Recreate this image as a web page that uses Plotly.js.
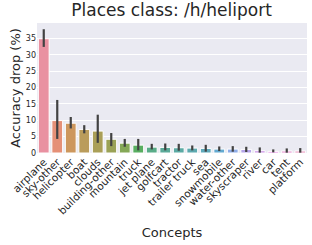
<!DOCTYPE html>
<html>
<head>
<meta charset="utf-8">
<script src="https://cdn.plot.ly/plotly-3.0.1.min.js"></script>
<style>html,body{margin:0;padding:0;background:#fff;}#chart{width:312px;height:245px;}</style>
</head>
<body>
<div id="chart"></div>
<script>
var concepts = ["airplane","sky-other","helicopter","boat","clouds","building-other","mountain","truck","jet plane","golfcart","tractor","trailer truck","sea","snowmobile","water-other","skyscraper","river","car","tent","platform"];
var drop   = [34.9, 9.9, 9.1, 7.2, 6.7, 4.2, 3.0, 2.4, 1.8, 1.7, 1.6, 1.5, 1.4, 1.2, 1.2, 1.1, 0.7, 0.5, 0.6, 0.6];
var ciLow  = [32.4, 4.3, 7.5, 6.0, 3.1, 2.1, 1.9, 0.8, 1.1, 0.8, 0.7, 0.8, 0.4, 0.6, 0.4, 0.3, 0.1, 0.2, 0.1, 0.1];
var ciHigh = [37.8, 16.2, 11.0, 8.5, 11.7, 6.1, 4.3, 4.3, 2.8, 2.9, 2.8, 2.3, 2.5, 2.0, 2.1, 1.9, 1.7, 1.1, 1.4, 1.5];
var palette = ['#f77189','#f7754f','#dc8932','#c39532','#ae9d31','#97a431','#77ab31','#31b33e','#33b07a','#35ae93','#36ada4','#37abb4','#38a9c5','#3aa5df','#6e9bf4','#a48cf4','#cc7af4','#f45cf2','#f565cc','#f66bad'];

function desat(hex, f, w){
  var r=parseInt(hex.substr(1,2),16)/255,g=parseInt(hex.substr(3,2),16)/255,b=parseInt(hex.substr(5,2),16)/255;
  var mx=Math.max(r,g,b),mn=Math.min(r,g,b),l=(mx+mn)/2,h=0,s=0,d=mx-mn;
  if(d>0){s=l>0.5?d/(2-mx-mn):d/(mx+mn);
    if(mx===r)h=((g-b)/d)%6;else if(mx===g)h=(b-r)/d+2;else h=(r-g)/d+4;h/=6;if(h<0)h+=1;}
  s*=f;
  function hue(p,q,t){if(t<0)t+=1;if(t>1)t-=1;if(t<1/6)return p+(q-p)*6*t;if(t<1/2)return q;if(t<2/3)return p+(q-p)*(2/3-t)*6;return p;}
  var q=l<0.5?l*(1+s):l+s-l*s,p=2*l-q;
  var rr=hue(p,q,h+1/3),gg=hue(p,q,h),bb=hue(p,q,h-1/3);
  function mix(v){return Math.round((v*(1-w)+w)*255);}
  return 'rgb('+mix(rr)+','+mix(gg)+','+mix(bb)+')';
}
var colors = palette.map(function(c){return desat(c,0.75,0.12);});

var trace = {
  type:'bar', x:concepts, y:drop, width:0.8,
  marker:{color:colors, line:{color:'#ffffff', width:1}},
  error_y:{type:'data', symmetric:false,
    array: ciHigh.map(function(v,i){return v-drop[i];}),
    arrayminus: drop.map(function(v,i){return v-ciLow[i];}),
    color:'#424242', thickness:2.2, width:0},
  hoverinfo:'x+y'
};
var font = 'DejaVu Sans, sans-serif';
var layout = {
  width:312, height:245,
  margin:{l:37, r:5, t:23, b:92, pad:0},
  paper_bgcolor:'#ffffff', plot_bgcolor:'#eaeaf2',
  showlegend:false,
  title:{text:'Places class: /h/heliport', font:{family:font, size:17, color:'#262626'}, x:0.55, xanchor:'center', y:0.985, yanchor:'top'},
  xaxis:{type:'category', range:[-0.5,19.5], tickangle:-45, showgrid:false, zeroline:false, ticks:'', tickfont:{family:font, size:10.5, color:'#262626'},
    title:{text:'Concepts', font:{family:font, size:13, color:'#262626'}, standoff:12}},
  yaxis:{range:[0,39.7], dtick:5, tick0:0, showgrid:true, gridcolor:'#ffffff', gridwidth:1, zeroline:false, ticks:'', tickfont:{family:font, size:8, color:'#262626'},
    title:{text:'Accuracy drop (%)', font:{family:font, size:13, color:'#262626'}, standoff:2}},
  bargap:0.2
};
Plotly.newPlot('chart',[trace],layout,{displayModeBar:false, staticPlot:true});
</script>
</body>
</html>
